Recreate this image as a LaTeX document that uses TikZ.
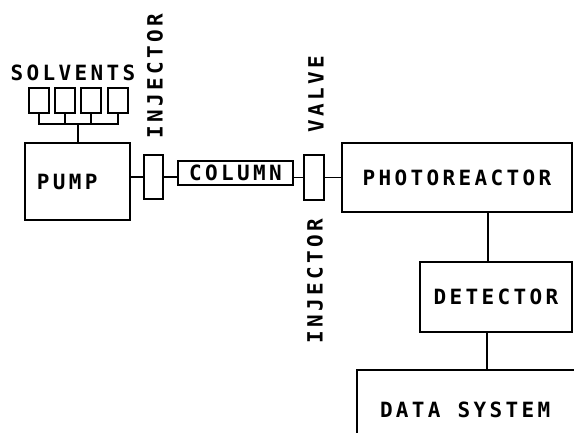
\documentclass[tikz,border=0pt]{standalone}
\usepackage{fontspec}
\newfontfamily\plotfont{DejaVu Sans Mono}[LetterSpace=16]
\usetikzlibrary{positioning}

\begin{document}
\begin{tikzpicture}[x=1pt,y=-1pt,line width=1.1pt,
		txt/.style={font=\plotfont\bfseries\fontsize{21pt}{21pt}\selectfont},
		box/.style={draw,rectangle,inner sep=0pt,txt},
		lbl/.style={inner sep=0pt,txt}]
	\useasboundingbox (0,0) rectangle (574,433);
	\clip (0,0) rectangle (574,433);
	% solvents
	\node[lbl] (solv) at (73,73) {SOLVENTS};
	\foreach \i/\x in {1/39,2/65,3/91,4/118}
		\node[box,minimum width=20,minimum height=25] (s\i) at (\x,100.5) {};
	% pump and injector
	\node[box,minimum height=77,text width=81,inner xsep=12,align=left] (pump) at (77.5,181.5) {PUMP};
	\node[box,minimum width=19,minimum height=44] (inj1) at (153.5,177) {};
	\node[lbl,rotate=90] (injlbl1) at (155,76) {INJECTOR};
	% column and valve
	\node[box,minimum width=115,minimum height=24] (col) at (235.5,173) {COLUMN};
	\node[box,minimum width=20,minimum height=45] (valve) at (314,177.5) {};
	\node[lbl,rotate=90] (vlvlbl) at (316,94) {VALVE};
	\node[lbl,rotate=90] (injlbl2) at (315,281) {INJECTOR};
	% photoreactor, detector, data system
	\node[box,minimum width=230,minimum height=69] (photo) at (457,177.5) {PHOTOREACTOR};
	\node[box,minimum width=152,minimum height=70] (det) at (496,297) {DETECTOR};
	\node[box,minimum height=80,text width=194,inner xsep=23,align=left] (dsys) at (477,410) {DATA\hspace{17pt}SYSTEM};
	% connections
	\coordinate (man) at (78,124);
	\draw (s1.south) |- (man) -| (s4.south);
	\draw (s2.south) -- (s2.south |- man) (s3.south) -- (s3.south |- man);
	\draw (man) -- (man |- pump.north);
	\draw (inj1.west) -- (inj1.west -| pump.east);
	\draw (inj1.east) -- (inj1.east -| col.west);
	\draw (valve.west) -- (valve.west -| col.east);
	\draw (valve.east) -- (valve.east -| photo.west);
	\draw ([xshift=-8]det.north) -- ([xshift=-8]det.north |- photo.south);
	\draw ([xshift=-9]det.south) -- ([xshift=-9]det.south |- dsys.north);
\end{tikzpicture}
\end{document}
